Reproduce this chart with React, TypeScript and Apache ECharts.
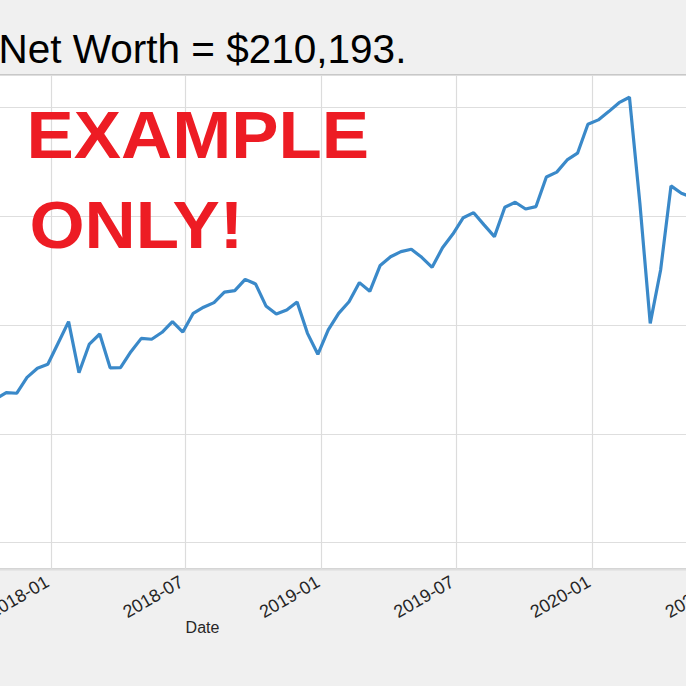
import React, { useEffect, useRef } from "react";
import * as echarts from "echarts";

// ---- data ----
const dates = [
  "2017-10-19", "2017-11-02", "2017-11-16", "2017-11-30", "2017-12-14", "2017-12-28",
  "2018-01-11", "2018-01-25", "2018-02-08", "2018-02-22", "2018-03-08", "2018-03-22",
  "2018-04-05", "2018-04-19", "2018-05-03", "2018-05-17", "2018-05-31", "2018-06-14",
  "2018-06-28", "2018-07-12", "2018-07-26", "2018-08-09", "2018-08-23", "2018-09-06",
  "2018-09-20", "2018-10-04", "2018-10-18", "2018-11-01", "2018-11-15", "2018-11-29",
  "2018-12-13", "2018-12-27", "2019-01-10", "2019-01-24", "2019-02-07", "2019-02-21",
  "2019-03-07", "2019-03-21", "2019-04-04", "2019-04-18", "2019-05-02", "2019-05-16",
  "2019-05-30", "2019-06-13", "2019-06-27", "2019-07-11", "2019-07-25", "2019-08-08",
  "2019-08-22", "2019-09-05", "2019-09-19", "2019-10-03", "2019-10-17", "2019-10-31",
  "2019-11-14", "2019-11-28", "2019-12-12", "2019-12-26", "2020-01-09", "2020-01-23",
  "2020-02-06", "2020-02-20", "2020-03-05", "2020-03-19", "2020-04-02", "2020-04-16",
  "2020-04-30", "2020-05-14",
];

const netWorth = [
  66000, 68900, 68600, 75900, 80100, 81900,
  91700, 101500, 78000, 91200, 95800, 80300,
  80400, 87700, 93800, 93400, 96600, 101500,
  96700, 105300, 108100, 110200, 115000, 115700,
  120900, 118800, 108700, 105000, 106800, 110500,
  96100, 86500, 97700, 105300, 110600, 119400,
  115400, 127300, 131300, 133600, 134700, 131000,
  126400, 135400, 141700, 149200, 151500, 145900,
  140500, 154000, 156300, 153200, 154300, 167900,
  170100, 175700, 178800, 192100, 194100, 197900,
  202000, 204500, 156000, 100700, 125200, 163800,
  160400, 158600,
];

const tickLabels = [
  "2017-01", "2017-07", "2018-01", "2018-07", "2019-01", "2019-07", "2020-01", "2020-07",
];

const titleText = "Net Worth = $210,193.";
const watermarkLines = ["EXAMPLE", "ONLY!"];

// ---- layout ----
const OFFSET = 360; // the chart canvas starts 360px left of the visible page
const CANVAS_W = 1120;
const X_MIN = "2016-07-30";
const X_MAX = "2020-07-18";
const Y_MIN = -12200;
const Y_MAX = 214700;

const toTs = (s: string) => {
  const [y, m, d] = s.split("-").map(Number);
  return Date.UTC(y, m - 1, d || 1);
};
const tickValues = tickLabels.map((t) => toTs(t));
const fmt = (v: number) => {
  const d = new Date(v);
  return `${d.getUTCFullYear()}-${String(d.getUTCMonth() + 1).padStart(2, "0")}`;
};

const FONT = "Liberation Sans, Arial, Helvetica, sans-serif";

export default function App() {
  const ref = useRef<HTMLDivElement>(null);

  useEffect(() => {
    if (!ref.current) return;
    const chart = echarts.init(ref.current, null, { renderer: "svg" });
    chart.setOption({
      animation: false,
      backgroundColor: "#f0f0f0",
      title: {
        text: titleText,
        left: OFFSET - 1.5,
        top: 28,
        padding: 0,
        textStyle: {
          fontSize: 40.5,
          fontWeight: "normal",
          color: "#000000",
          fontFamily: FONT,
        },
      },
      grid: {
        left: 25,
        right: 20,
        top: 75,
        bottom: 116.7,
        show: true,
        backgroundColor: "#ffffff",
        borderColor: "#c8c8c8",
        borderWidth: 2,
      },
      xAxis: {
        type: "value",
        min: toTs(X_MIN),
        max: toTs(X_MAX),
        scale: true,
        name: "Date",
        nameLocation: "middle",
        nameGap: 58,
        nameMoveOverlap: false,
        nameTextStyle: {
          fontSize: 16,
          color: "#262626",
          fontFamily: FONT,
          verticalAlign: "middle",
        },
        axisLine: { show: false },
        axisTick: { show: false, customValues: tickValues },
        axisLabel: {
          customValues: tickValues,
          formatter: (v: number) => fmt(v),
          rotate: 30,
          margin: 9,
          padding: [0, 4, 0, 0],
          fontSize: 18,
          color: "#262626",
          fontFamily: FONT,
        },
        splitLine: { show: true, lineStyle: { color: "#dcdcdc", width: 1.2 } },
      },
      yAxis: {
        type: "value",
        min: Y_MIN,
        max: Y_MAX,
        splitNumber: 5,
        axisLine: { show: false },
        axisTick: { show: false },
        axisLabel: { show: false },
        splitLine: { show: true, lineStyle: { color: "#dedede", width: 1.2 } },
      },
      series: [
        {
          type: "line",
          data: dates.map((d, i) => [toTs(d), netWorth[i]]),
          showSymbol: false,
          clip: true,
          lineStyle: { color: "#3a89c9", width: 3.2 },
          itemStyle: { color: "#3a89c9" },
        },
      ],
      graphic: [
        {
          type: "text",
          x: OFFSET + 26.5,
          y: 134.9,
          scaleX: 1.05,
          z: 100,
          style: {
            text: watermarkLines[0],
            fontSize: 67.5,
            fontWeight: "bold",
            fontFamily: FONT,
            fill: "#ed1c24",
            align: "left",
            verticalAlign: "middle",
          },
        },
        {
          type: "text",
          x: OFFSET + 29.5,
          y: 224.6,
          scaleX: 1.05,
          z: 100,
          style: {
            text: watermarkLines[1],
            fontSize: 67.5,
            fontWeight: "bold",
            fontFamily: FONT,
            fill: "#ed1c24",
            align: "left",
            verticalAlign: "middle",
          },
        },
      ],
    });
    return () => chart.dispose();
  }, []);

  return (
    <div
      style={{
        position: "fixed",
        left: 0,
        top: 0,
        width: 686,
        height: 686,
        overflow: "hidden",
        background: "#f0f0f0",
      }}
    >
      <div
        ref={ref}
        style={{ position: "absolute", left: -OFFSET, top: 0, width: CANVAS_W, height: 686 }}
      />
    </div>
  );
}
